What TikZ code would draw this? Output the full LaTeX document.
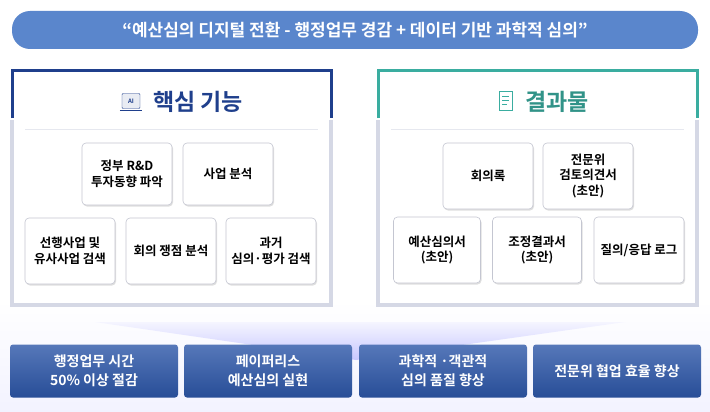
\documentclass[tikz,border=0pt]{standalone}
\usepackage{fontspec}
\setmainfont{Noto Sans CJK KR}[BoldFont={* Bold}]
\usetikzlibrary{shadows}
\definecolor{navy}{HTML}{1F3F8C}
\definecolor{teal2}{HTML}{3AADA0}
\definecolor{lgrey}{HTML}{D5D8E5}
\definecolor{bblue}{HTML}{2C56A8}
\definecolor{pill}{HTML}{5A86CC}
\tikzset{
 card/.style={draw=lgrey!80!gray,fill=white,rounded corners=4pt,line width=0.6pt,align=center,font=\bfseries\fontsize{12.5}{15.5}\selectfont,inner sep=1pt,drop shadow={shadow xshift=1pt,shadow yshift=-1.5pt,opacity=0.25}},
 bot/.style={rounded corners=3pt,top color=bblue!80!white,bottom color=bblue!90!black,text=white,align=center,font=\bfseries\fontsize{14}{19}\selectfont,minimum width=168pt,minimum height=53pt},
}
\begin{document}
\begin{tikzpicture}[x=1pt,y=-1pt]
\useasboundingbox (0,0) rectangle (710,412);
\fill[white] (0,0) rectangle (710,412);
\fill[top color=white,bottom color=blue!5] (0,300) rectangle (710,412);
% banner
\node[fill=pill,rounded corners=18pt,minimum width=686pt,minimum height=38pt,text=white,font=\bfseries\fontsize{17}{19}\selectfont] (banner) at (355,30) {“예산심의 디지털 전환 - 행정업무 경감 + 데이터 기반 과학적 심의”};
% left panel
\draw[lgrey,line width=4pt] (12,120) -- (12,305) -- (331,305) -- (331,120);
\draw[navy,line width=3pt] (12,118) -- (12,71) -- (331,71) -- (331,118);
\draw[lgrey!60,line width=0.6pt] (25,129) -- (318,129);
\node[text=navy,font=\bfseries\fontsize{23}{26}\selectfont] (lh) at (198,102) {핵심 기능};
\node[draw=navy,fill=navy!10,rounded corners=1pt,minimum width=18pt,minimum height=15pt,font=\bfseries\fontsize{6}{6}\selectfont,text=navy,inner sep=0pt] (licon) at (131,101) {AI};
\draw[navy,line width=1pt] (licon.south west) ++(-2,2) -- ++(22,0);
% right panel
\draw[lgrey,line width=4pt] (378,120) -- (378,305) -- (697,305) -- (697,120);
\draw[teal2,line width=3pt] (378,118) -- (378,71) -- (697,71) -- (697,118);
\draw[lgrey!60,line width=0.6pt] (391,129) -- (684,129);
\node[text=teal2!85!black,font=\bfseries\fontsize{23}{26}\selectfont] (rh) at (557,102) {결과물};
\node[draw=teal2,line width=1pt,minimum width=13pt,minimum height=18pt,inner sep=0pt] (ricon) at (506,101) {};
\draw[teal2,line width=0.8pt] ([xshift=3pt,yshift=-5pt]ricon.north west) -- ++(7,0) ([xshift=3pt,yshift=-9pt]ricon.north west) -- ++(7,0) ([xshift=3pt,yshift=-13pt]ricon.north west) -- ++(5,0);
% left cards
\node[card,minimum width=90pt,minimum height=62pt] (a1) at (127,174) {정부 R\&D\\투자동향 파악};
\node[card,minimum width=90pt,minimum height=62pt] (a2) at (228,174) {사업 분석};
\node[card,minimum width=90pt,minimum height=66pt] (a3) at (70,251) {선행사업 및\\유사사업 검색};
\node[card,minimum width=90pt,minimum height=66pt] (a4) at (171,251) {회의 쟁점 분석};
\node[card,minimum width=90pt,minimum height=66pt] (a5) at (271,251) {과거\\심의·평가 검색};
% right cards
\node[card,minimum width=90pt,minimum height=66pt] (b1) at (488,176) {회의록};
\node[card,minimum width=90pt,minimum height=66pt] (b2) at (588,176) {전문위\\검토의견서\\(초안)};
\node[card,minimum width=87pt,minimum height=66pt] (b3) at (437,250) {예산심의서\\(초안)};
\node[card,minimum width=89pt,minimum height=66pt] (b4) at (537,250) {조정결과서\\(초안)};
\node[card,minimum width=90pt,minimum height=66pt] (b5) at (639,250) {질의/응답 로그};
% funnel
\shade[top color=blue!4,bottom color=blue!22] (95,322) -- (625,322) -- (356,360) -- cycle;
% bottom
\node[bot] (c1) at (94,371) {행정업무 시간\\50\% 이상 절감};
\node[bot] (c2) at (268,371) {페이퍼리스\\예산심의 실현};
\node[bot] (c3) at (443,371) {과학적 ·객관적\\심의 품질 향상};
\node[bot] (c4) at (617,371) {전문위 협업 효율 향상};
\end{tikzpicture}
\end{document}
